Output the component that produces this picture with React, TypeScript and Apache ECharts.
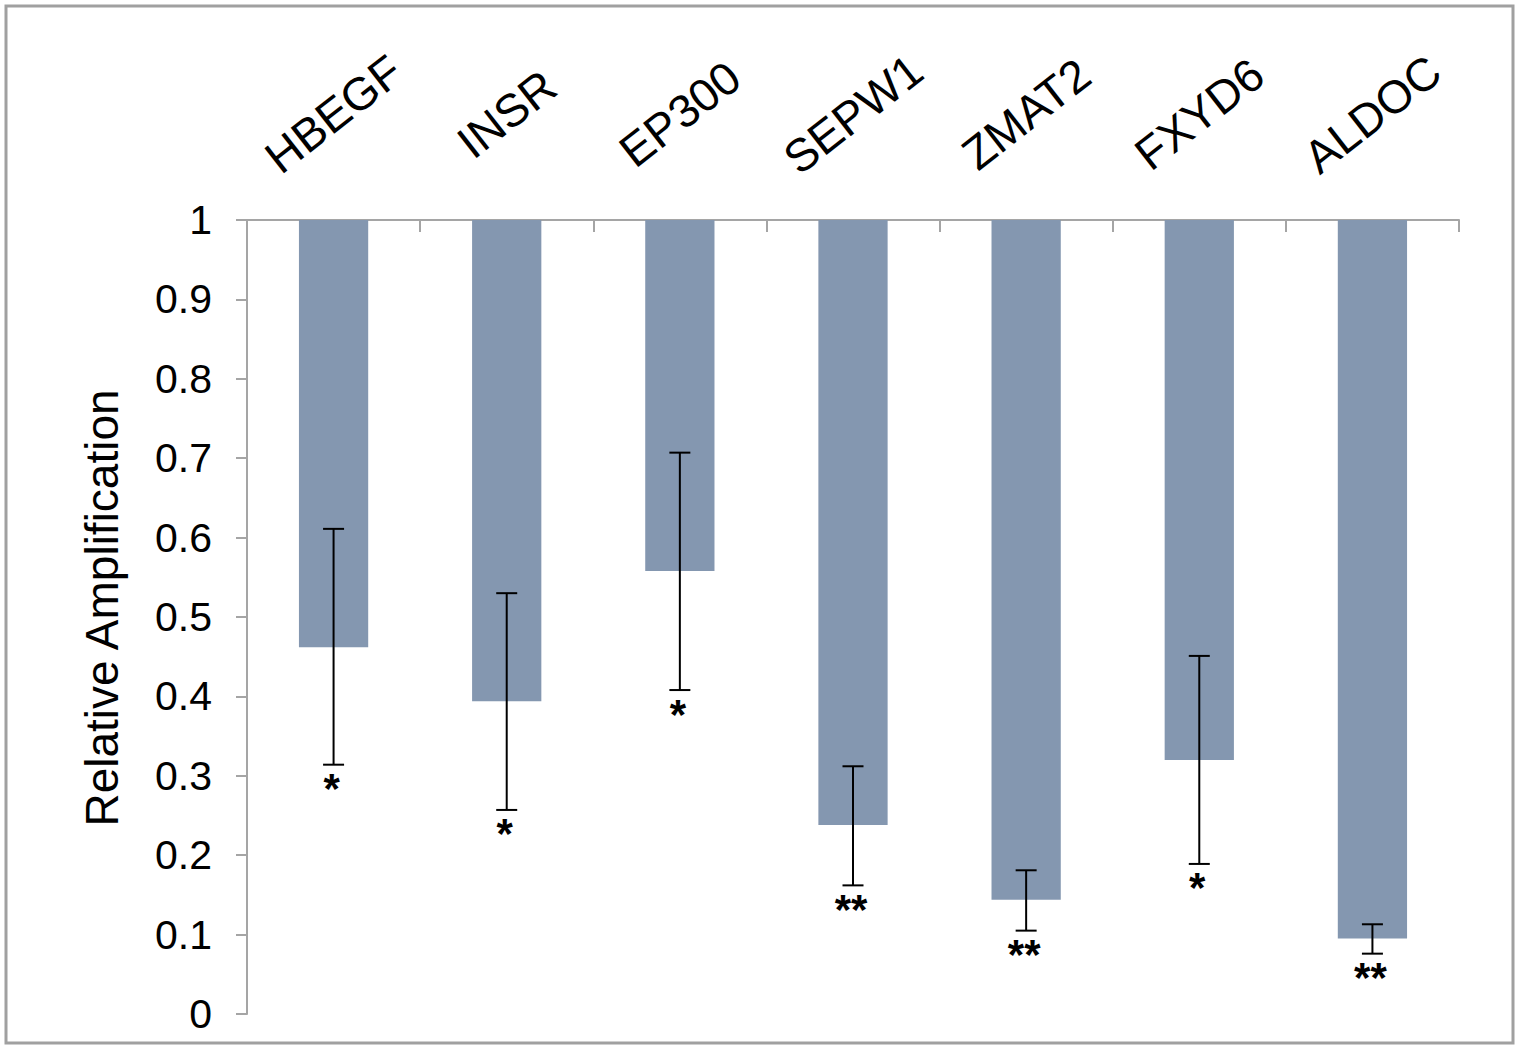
import React, { useEffect, useRef } from "react";
import * as echarts from "echarts";

const categories = ["HBEGF", "INSR", "EP300", "SEPW1", "ZMAT2", "FXYD6", "ALDOC"];
const values = [0.462, 0.394, 0.558, 0.238, 0.144, 0.32, 0.095];
const errUpper = [0.611, 0.53, 0.707, 0.312, 0.181, 0.451, 0.113];
const errLower = [0.314, 0.257, 0.408, 0.162, 0.105, 0.189, 0.076];
const significance = ["*", "*", "*", "**", "**", "*", "**"];
const yMin = 0;
const yMax = 1;
const yInterval = 0.1;
const barTop = 1;

export default function App() {
  const ref = useRef<HTMLDivElement>(null);
  useEffect(() => {
    if (!ref.current) return;
    const chart = echarts.init(ref.current, null, { renderer: "svg" });
    const font = "'Liberation Sans', Arial, sans-serif";
    const data = categories.map((c, i) => [i, values[i], errUpper[i], errLower[i]]);
    chart.setOption({
      animation: false,
      backgroundColor: "#ffffff",
      graphic: [
        {
          type: "rect",
          shape: { x: 6, y: 6, width: 1507, height: 1037 },
          style: { fill: "none", stroke: "#a0a0a0", lineWidth: 3 },
          z: 100,
        },
      ],
      grid: { left: 247, right: 61, top: 220, bottom: 36 },
      xAxis: {
        type: "category",
        position: "top",
        data: categories,
        boundaryGap: true,
        axisLine: { show: true, onZero: false, lineStyle: { color: "#a5a5a5", width: 2 } },
        axisTick: { show: true, inside: true, length: 12, lineStyle: { color: "#a5a5a5", width: 2 } },
        axisLabel: {
          rotate: -38,
          align: "center",
          verticalAlign: "middle",
          margin: 106,
          fontSize: 46,
          color: "#000",
          fontFamily: font,
        },
        splitLine: { show: false },
      },
      yAxis: {
        type: "value",
        min: yMin,
        max: yMax,
        interval: yInterval,
        name: "Relative Amplification",
        nameLocation: "middle",
        nameGap: 122,
        nameTextStyle: { fontSize: 46, color: "#000", fontFamily: font, padding: [0, 0, 0, 18] },
        axisLine: { show: true, lineStyle: { color: "#a5a5a5", width: 2 } },
        axisTick: { show: true, length: 11, lineStyle: { color: "#a5a5a5", width: 2 } },
        axisLabel: { fontSize: 41, color: "#000", margin: 35, fontFamily: font },
        splitLine: { show: false },
      },
      series: [
        {
          type: "custom",
          data,
          encode: { x: 0, y: 1 },
          renderItem: (params: any, api: any) => {
            const i = api.value(0);
            const v = api.value(1);
            const up = api.value(2);
            const lo = api.value(3);
            const sig = significance[params.dataIndex];
            const top = api.coord([i, barTop]);
            const bot = api.coord([i, v]);
            const pu = api.coord([i, up]);
            const pl = api.coord([i, lo]);
            const bw = api.size([1, 0])[0] * 0.4;
            const cap = 10.5;
            const x = top[0];
            return {
              type: "group",
              children: [
                {
                  type: "rect",
                  shape: { x: x - bw / 2, y: top[1], width: bw, height: bot[1] - top[1] },
                  style: { fill: "#8497B0" },
                },
                {
                  type: "line",
                  shape: { x1: x, y1: pu[1], x2: x, y2: pl[1] },
                  style: { stroke: "#000", lineWidth: 2 },
                },
                {
                  type: "line",
                  shape: { x1: x - cap, y1: pu[1], x2: x + cap, y2: pu[1] },
                  style: { stroke: "#000", lineWidth: 2 },
                },
                {
                  type: "line",
                  shape: { x1: x - cap, y1: pl[1], x2: x + cap, y2: pl[1] },
                  style: { stroke: "#000", lineWidth: 2 },
                },
                {
                  type: "text",
                  x: x - 2,
                  y: pl[1] + 3,
                  style: {
                    text: sig,
                    fill: "#000",
                    fontSize: 42,
                    fontWeight: "bold",
                    fontFamily: font,
                    align: "center",
                    verticalAlign: "top",
                  },
                },
              ],
            };
          },
        },
      ],
    });
    return () => chart.dispose();
  }, []);
  return (
    <div
      ref={ref}
      style={{ position: "fixed", left: 0, top: 0, width: 1520, height: 1050 }}
    />
  );
}
